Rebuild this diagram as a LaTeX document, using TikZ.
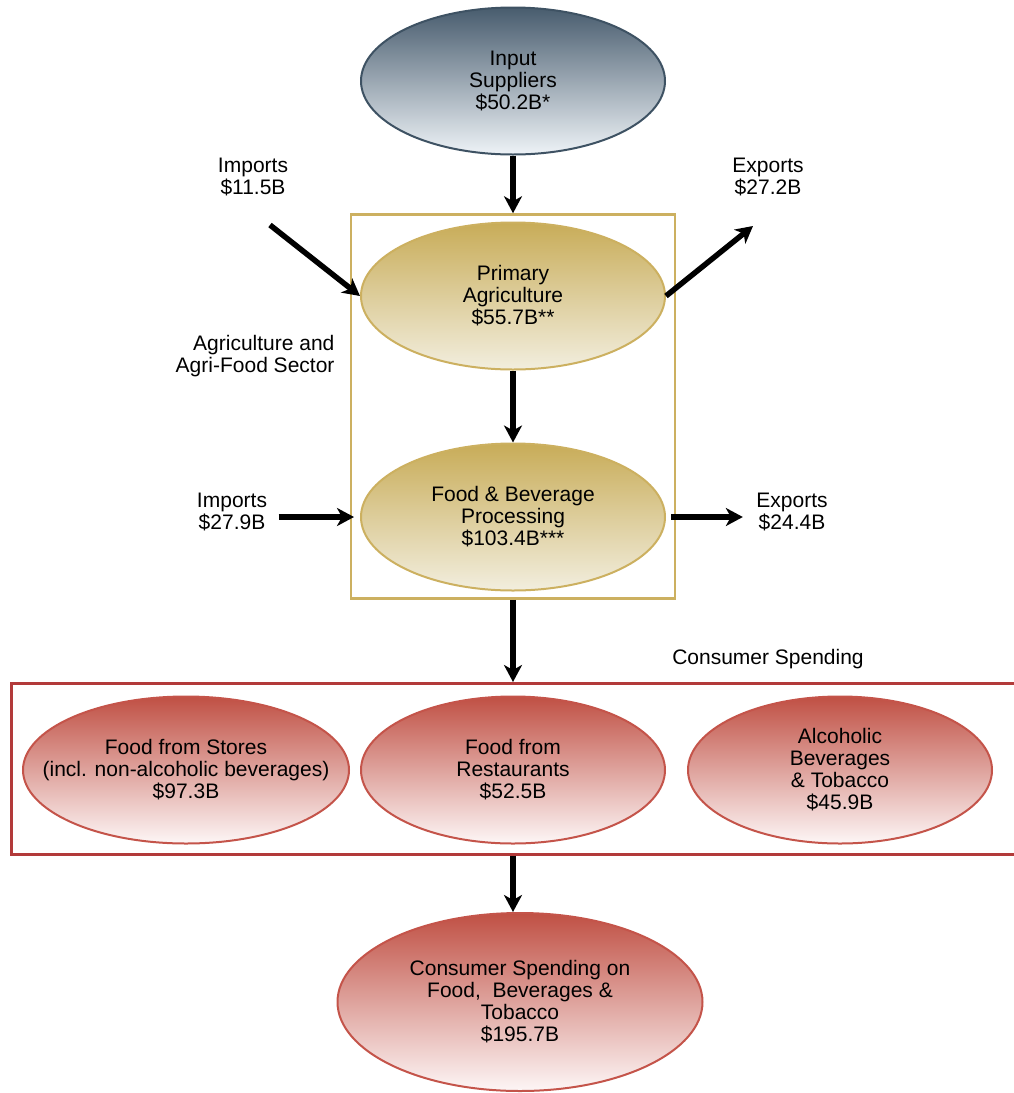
\documentclass[tikz,border=0pt]{standalone}
\usepackage{fontspec}
\setmainfont{Liberation Sans}
\usetikzlibrary{shapes.geometric, arrows.meta, positioning, fit}
\definecolor{slateedge}{RGB}{62,82,99}
\definecolor{slatetop} {RGB}{72,92,110}
\definecolor{slatebot} {RGB}{238,243,247}
\definecolor{goldedge} {RGB}{204,176,96}
\definecolor{goldtop}  {RGB}{200,172,88}
\definecolor{goldbot}  {RGB}{242,238,222}
\definecolor{rededge}  {RGB}{196,84,74}
\definecolor{redtop}   {RGB}{192,80,68}
\definecolor{redbot}   {RGB}{253,246,246}
\definecolor{boxred}   {RGB}{178,58,58}

\begin{document}
\begin{tikzpicture}[x=1pt, y=-1pt,
  blob/.style={
    ellipse, line width=2pt, align=center, inner sep=0pt,
    minimum width=304pt, minimum height=147pt,
    font=\fontsize{21}{22}\selectfont},
  supplier/.style={blob, draw=slateedge, top color=slatetop, bottom color=slatebot},
  farm/.style={blob, draw=goldedge, top color=goldtop, bottom color=goldbot},
  spend/.style={blob, draw=rededge, top color=redtop, bottom color=redbot},
  lbl/.style={align=center, font=\fontsize{21}{22}\selectfont},
  arr/.style={-{Stealth[length=17pt,width=18pt,inset=5pt]}, line width=5.5pt}
]
  \useasboundingbox (0,0) rectangle (1014,1093);
  % Sector
  \node[supplier] (input) at (513,81) {Input\\Suppliers\\\$50.2B*};
  \node[farm] (primary) at (513,296) {Primary\\Agriculture\\\$55.7B**};
  \node[farm] (processing) at (513,517)
    {Food \& Beverage\\Processing\\\$103.4B***};
  \node[draw=goldedge, line width=2.5pt, inner xsep=9pt, inner ysep=7pt,
    fit=(primary)(processing)] (sector) {};
  \node[lbl, align=right, anchor=east] (sectorlbl) at (338,356)
    {Agriculture and\\Agri-Food Sector};
  % Trade
  \node[lbl] (imp1) at (253,177) {Imports\\\$11.5B};
  \node[lbl] (exp1) at (768,177) {Exports\\\$27.2B};
  \node[lbl] (imp2) at (232,512) {Imports\\\$27.9B};
  \node[lbl] (exp2) at (792,512) {Exports\\\$24.4B};
  \coordinate (imp1end) at (270,225);
  \coordinate (exp1end) at (753,226);
  % Consumer spending
  \node[lbl] (spendlbl) at (768,659) {Consumer Spending};
  \node[draw=boxred, line width=2.5pt, anchor=north west,
    minimum width=1012pt, minimum height=171pt] (spendbox) at (10,682) {};
  \node[spend, minimum width=326pt, inner xsep=-32pt] (stores) at (186,770)
    {Food from Stores\\(incl. non-alcoholic beverages)\\\$97.3B};
  \node[spend] (restaurants) at (513,770) {Food from\\Restaurants\\\$52.5B};
  \node[spend] (alcohol) at (840,770)
    {Alcoholic\\Beverages\\\& Tobacco\\\$45.9B};
  \node[spend, minimum width=365pt, minimum height=178pt] (total) at (520,1002)
    {Consumer Spending on\\Food,\ \ Beverages \&\\Tobacco\\\$195.7B};
  % Arrows
  \draw[arr] (input) -- (sector.north);
  \draw[arr] (imp1end) -- (primary.west);
  \draw[arr] (primary.east) -- (exp1end);
  \draw[arr] (primary) -- (processing);
  \draw[arr, shorten <=8pt, shorten >=6pt] (imp2.east |- processing) -- (processing.west);
  \draw[arr, shorten <=5pt, shorten >=10pt] (processing.east) -- (exp2.west |- processing);
  \draw[arr] (sector.south) -- (sector.south |- spendbox.north);
  \draw[arr] (spendbox.south -| sector.south) -- (sector.south |- total.north);
\end{tikzpicture}
\end{document}
